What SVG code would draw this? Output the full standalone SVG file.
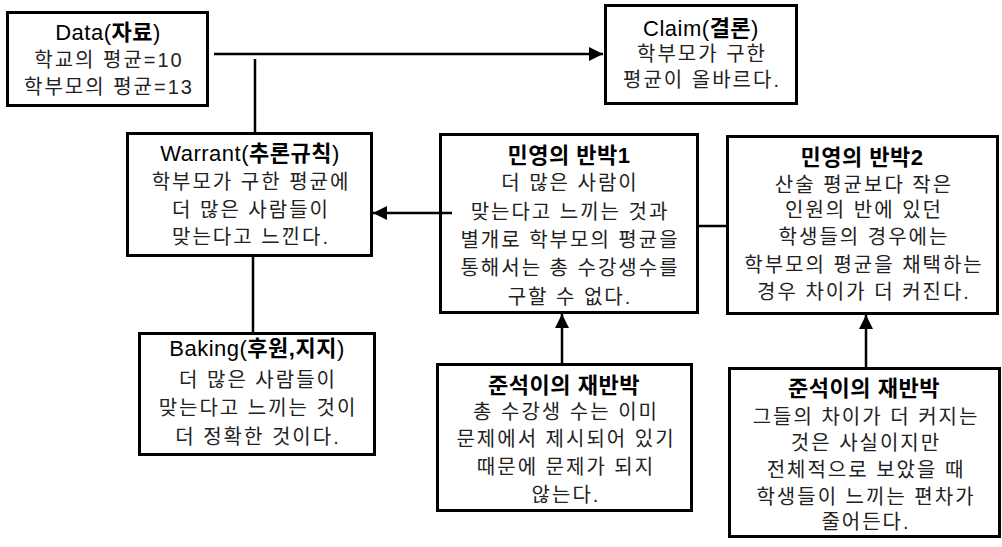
<svg xmlns="http://www.w3.org/2000/svg" width="1002" height="547" viewBox="0 0 1002 547">
<style>
.box{fill:#fff;stroke:#000;stroke-width:3}
.t{font-family:"Liberation Sans","Noto Sans CJK KR",sans-serif;font-size:22px;fill:#000;text-anchor:middle;letter-spacing:0.5px}
.b{font-family:"Liberation Sans","Noto Sans CJK KR",sans-serif;font-size:20px;fill:#222;text-anchor:middle;letter-spacing:2px}
.k{font-weight:bold}
.c{stroke:#000;stroke-width:2.5;fill:none}
</style>
<defs>
<marker id="ah" viewBox="0 0 14 14" refX="14" refY="7" markerWidth="14" markerHeight="14" markerUnits="userSpaceOnUse" orient="auto">
<path d="M0,0 L14,7 L0,14 Z" fill="#000"/>
</marker>
</defs>
<g id="data">
<rect class="box" x="7.5" y="12.5" width="200" height="93"/>
<text class="t" x="108" y="40">Data(<tspan class="k">자료</tspan>)</text>
<text class="b" x="109" y="67">학교의 평균=10</text>
<text class="b" x="109" y="94">학부모의 평균=13</text>
</g>
<g id="claim">
<rect class="box" x="605.5" y="5.5" width="191" height="98"/>
<text class="t" x="701" y="36">Claim(<tspan class="k">결론</tspan>)</text>
<text class="b" x="702" y="61">학부모가 구한</text>
<text class="b" x="702" y="87">평균이 올바르다.</text>
</g>
<g id="warrant">
<rect class="box" x="127.5" y="133.5" width="244" height="122"/>
<text class="t" x="250" y="161">Warrant(<tspan class="k">추론규칙</tspan>)</text>
<text class="b" x="251" y="189">학부모가 구한 평균에</text>
<text class="b" x="251" y="217">더 많은 사람들이</text>
<text class="b" x="251" y="244">맞는다고 느낀다.</text>
</g>
<g id="rebuttal1">
<rect class="box" x="440.5" y="134.5" width="257" height="178"/>
<text class="t k" x="569" y="163">민영의 반박1</text>
<text class="b" x="570" y="190">더 많은 사람이</text>
<text class="b" x="570" y="219">맞는다고 느끼는 것과</text>
<text class="b" x="570" y="247">별개로 학부모의 평균을</text>
<text class="b" x="570" y="275">통해서는 총 수강생수를</text>
<text class="b" x="570" y="304">구할 수 없다.</text>
</g>
<g id="rebuttal2">
<rect class="box" x="727.5" y="136.5" width="270" height="177"/>
<text class="t k" x="862" y="165">민영의 반박2</text>
<text class="b" x="864" y="192">산술 평균보다 작은</text>
<text class="b" x="864" y="217">인원의 반에 있던</text>
<text class="b" x="864" y="244">학생들의 경우에는</text>
<text class="b" x="864" y="272">학부모의 평균을 채택하는</text>
<text class="b" x="864" y="299">경우 차이가 더 커진다.</text>
</g>
<g id="backing">
<rect class="box" x="139.5" y="333.5" width="235" height="121"/>
<text class="t" x="257" y="356">Baking(<tspan class="k">후원,지지</tspan>)</text>
<text class="b" x="258" y="387">더 많은 사람들이</text>
<text class="b" x="258" y="415">맞는다고 느끼는 것이</text>
<text class="b" x="258" y="444">더 정확한 것이다.</text>
</g>
<g id="counter1">
<rect class="box" x="437.5" y="364.5" width="254" height="146"/>
<text class="t k" x="564" y="393">준석이의 재반박</text>
<text class="b" x="566" y="419">총 수강생 수는 이미</text>
<text class="b" x="566" y="446">문제에서 제시되어 있기</text>
<text class="b" x="566" y="474">때문에 문제가 되지</text>
<text class="b" x="566" y="502">않는다.</text>
</g>
<g id="counter2">
<rect class="box" x="729.5" y="368.5" width="270" height="168"/>
<text class="t k" x="864" y="396">준석이의 재반박</text>
<text class="b" x="866" y="424">그들의 차이가 더 커지는</text>
<text class="b" x="866" y="450">것은 사실이지만</text>
<text class="b" x="866" y="477">전체적으로 보았을 때</text>
<text class="b" x="866" y="504">학생들이 느끼는 편차가</text>
<text class="b" x="866" y="529">줄어든다.</text>
</g>
<g id="connectors">
<line class="c" x1="214" y1="54" x2="603" y2="54" marker-end="url(#ah)"/>
<line class="c" x1="255" y1="59" x2="255" y2="132"/>
<line class="c" x1="253" y1="256" x2="253" y2="332"/>
<line class="c" x1="452" y1="213" x2="373" y2="213" marker-end="url(#ah)"/>
<line class="c" x1="698" y1="226" x2="726" y2="226"/>
<line class="c" x1="562" y1="363" x2="562" y2="314" marker-end="url(#ah)"/>
<line class="c" x1="866" y1="367" x2="866" y2="315" marker-end="url(#ah)"/>
</g>
</svg>
